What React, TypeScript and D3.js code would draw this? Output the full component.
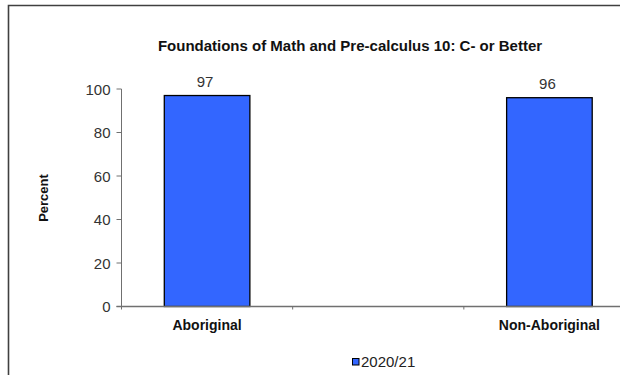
import React from "react";
import * as d3 from "d3";

const categories = ["Aboriginal", "", "Non-Aboriginal"];
const values: (number | null)[] = [97, null, 96];
const seriesName = "2020/21";
const yTicks = [0, 20, 40, 60, 80, 100];
const title = "Foundations of Math and Pre-calculus 10: C- or Better";
const yLabel = "Percent";

export default function App() {
  const W = 620;
  const H = 375;
  const left = 121.5;
  const right = 635;
  const top = 89;
  const bottom = 306.5;
  const font = "'Liberation Sans', Arial, sans-serif";

  const x = d3.scaleBand<string>().domain(categories.map((c, i) => i + ":" + c)).range([left, right]).paddingInner(0).paddingOuter(0);
  const y = d3.scaleLinear().domain([0, 100]).range([bottom, top]);
  const bw = x.bandwidth() * 0.5;
  const keys = x.domain();

  return (
    <svg width={W} height={H} style={{ position: "absolute", left: 0, top: 0, background: "#fff" }}>
      <rect x={0} y={0} width={W} height={H} fill="#fff" />
      <path d={`M8.5,${H} V5.5 H${W}`} fill="none" stroke="#404040" strokeWidth={1.6} />
      <text x={350} y={51} textAnchor="middle" fontFamily={font} fontWeight="bold" fontSize={15} fill="#111">{title}</text>
      <text transform={`translate(48,198) rotate(-90)`} textAnchor="middle" fontFamily={font} fontWeight="bold" fontSize={13} fill="#111">{yLabel}</text>
      {/* y axis */}
      <line x1={left} x2={left} y1={top} y2={bottom} stroke="#707070" strokeWidth={1} />
      {yTicks.map((t) => (
        <g key={t}>
          <line x1={left - 5} x2={left} y1={y(t)} y2={y(t)} stroke="#707070" strokeWidth={1} />
          <text x={left - 11} y={y(t) + 5.5} textAnchor="end" fontFamily={font} fontSize={15} fill="#333">{t}</text>
        </g>
      ))}
      {/* bars */}
      {keys.map((k, i) => {
        const v = values[i];
        if (v == null) return null;
        const cx = (x(k) as number) + x.bandwidth() / 2;
        return (
          <g key={k}>
            <rect x={cx - bw / 2} y={y(v)} width={bw} height={bottom - y(v)} fill="#3366FF" stroke="#000" strokeWidth={1.3} />
            <text x={cx - 2} y={y(v) - 9} textAnchor="middle" fontFamily={font} fontSize={15} fill="#333">{v}</text>
          </g>
        );
      })}
      {/* x axis */}
      <line x1={left - 5} x2={right} y1={bottom} y2={bottom} stroke="#707070" strokeWidth={1.3} />
      {keys.slice(1).map((k) => (
        <line key={k} x1={x(k) as number} x2={x(k) as number} y1={bottom} y2={bottom + 3} stroke="#707070" strokeWidth={1} />
      ))}
      <line x1={left} x2={left} y1={bottom} y2={bottom + 3} stroke="#707070" strokeWidth={1} />
      {keys.map((k, i) =>
        categories[i] ? (
          <text key={k} x={(x(k) as number) + x.bandwidth() / 2} y={330} textAnchor="middle" fontFamily={font} fontWeight="bold" fontSize={14} fill="#111">{categories[i]}</text>
        ) : null
      )}
      {/* legend */}
      <rect x={352.5} y={358.5} width={6.5} height={6.5} fill="#3366FF" stroke="#000" strokeWidth={1} />
      <text x={361} y={367} fontFamily={font} fontSize={15} fill="#222">{seriesName}</text>
    </svg>
  );
}
